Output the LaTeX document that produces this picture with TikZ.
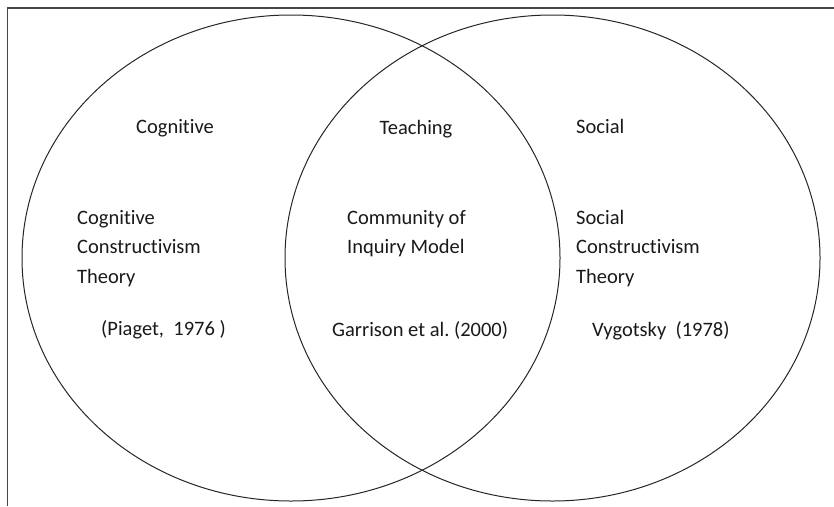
\documentclass[tikz,border=0pt]{standalone}
\usepackage{fontspec}
\setmainfont[Ligatures=NoCommon]{Carlito}
\frenchspacing
\begin{document}
\begin{tikzpicture}[x=1pt,y=-1pt,
  frameline/.style={line width=1.3pt,draw={rgb,255:red,70;green,70;blue,70}},
  setline/.style={line width=1pt,draw=black!85},
  lbl/.style={inner sep=0pt,font=\fontsize{20.5}{29}\selectfont,text=black!90},
  lblw/.style={lbl,anchor=base west},
  lblc/.style={lbl,anchor=base}]
\useasboundingbox (0,0) rectangle (834,506);
% partial frame
\coordinate (fA) at (834,8);
\coordinate (fB) at (7.5,8);
\coordinate (fC) at (7.5,506);
\draw[frameline] (fA) -- (fB) -- (fC);
% sets
\coordinate (cl) at (291,258);
\coordinate (cr) at (552.5,258);
\draw[setline] (cl) ellipse [x radius=269, y radius=243];
\draw[setline] (cr) ellipse [x radius=267.5, y radius=243];
% titles
\node[lblc] (tcog) at (175,133) {Cognitive};
\node[lblc] (tteach) at (416,134) {Teaching};
\node[lblw] (tsoc) at (576,133) {Social};
% left body
\node[lblw] (l1) at (77,224) {Cognitive};
\node[lblw] (l2) at (77,253.5) {Constructivism};
\node[lblw] (l3) at (77,283) {Theory};
\node[lblw] (l4) at (101,335) {(Piaget,\ \ 1976\ )};
% middle body
\node[lblw] (m1) at (347,224) {Community of};
\node[lblw] (m2) at (347,253.5) {Inquiry Model};
\node[lblw] (m3) at (332,336) {Garrison et al. (2000)};
% right body
\node[lblw] (r1) at (576,224) {Social};
\node[lblw] (r2) at (576,253.5) {Constructivism};
\node[lblw] (r3) at (576,283) {Theory};
\node[lblw] (r4) at (592,336) {Vygotsky\ \ (1978)};
\end{tikzpicture}
\end{document}
